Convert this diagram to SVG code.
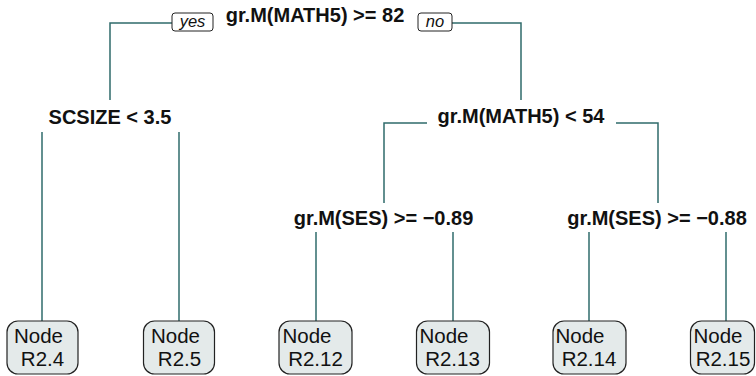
<svg xmlns="http://www.w3.org/2000/svg" width="756" height="376" viewBox="0 0 756 376">
<style>
.ln{fill:none;stroke:#2f6b6b;stroke-width:1.5}
.lbl{font-family:"Liberation Sans",Arial,sans-serif;font-weight:bold;font-size:20px;fill:#111;text-anchor:middle}
.leaf rect{fill:#e4eaea;stroke:#222;stroke-width:1.2}
.leaf text{font-family:"Liberation Sans",Arial,sans-serif;font-size:20.5px;fill:#111;text-anchor:middle}
.yn rect{fill:#fff;stroke:#222;stroke-width:1}
.yn text{font-family:"Liberation Sans",Arial,sans-serif;font-style:italic;font-size:16.5px;fill:#111;text-anchor:middle}
</style>
<rect width="756" height="376" fill="#fff"/>
<g id="connectors">
<path class="ln" d="M110,100 V23 H172"/>
<path class="ln" d="M452,23 H521 V100"/>
<path class="ln" d="M42,132 V321"/>
<path class="ln" d="M179,132 V321"/>
<path class="ln" d="M427,123 H384 V203"/>
<path class="ln" d="M616,123 H658 V203"/>
<path class="ln" d="M316,232 V321"/>
<path class="ln" d="M453,232 V321"/>
<path class="ln" d="M589,232 V321"/>
<path class="ln" d="M726,232 V321"/>
</g>
<g id="yes-label" class="yn"><rect x="172" y="13" width="41" height="18" rx="3"/><text x="192.5" y="27">yes</text></g>
<g id="no-label" class="yn"><rect x="418" y="13" width="34" height="18" rx="3"/><text x="435" y="27">no</text></g>
<g id="root"><text class="lbl" x="315" y="22">gr.M(MATH5) &gt;= 82</text></g>
<g id="n2"><text class="lbl" x="110" y="124">SCSIZE &lt; 3.5</text></g>
<g id="n3"><text class="lbl" x="521" y="123">gr.M(MATH5) &lt; 54</text></g>
<g id="n6"><text class="lbl" x="383.5" y="225">gr.M(SES) &gt;= −0.89</text></g>
<g id="n7"><text class="lbl" x="657" y="225">gr.M(SES) &gt;= −0.88</text></g>
<g id="leaf4" class="leaf"><rect x="7" y="321" width="71" height="53" rx="11"/><text x="38.5" y="343">Node</text><text x="42.5" y="366">R2.4</text></g>
<g id="leaf5" class="leaf"><rect x="143.5" y="321" width="71" height="53" rx="11"/><text x="175.5" y="343">Node</text><text x="179.5" y="366">R2.5</text></g>
<g id="leaf12" class="leaf"><rect x="279" y="321" width="73" height="53" rx="11"/><text x="307" y="343">Node</text><text x="315.5" y="366">R2.12</text></g>
<g id="leaf13" class="leaf"><rect x="416.5" y="321" width="73" height="53" rx="11"/><text x="444" y="343">Node</text><text x="452.5" y="366">R2.13</text></g>
<g id="leaf14" class="leaf"><rect x="553" y="321" width="73" height="53" rx="11"/><text x="580" y="343">Node</text><text x="589" y="366">R2.14</text></g>
<g id="leaf15" class="leaf"><rect x="690.5" y="321" width="64" height="53" rx="11"/><text x="718" y="343">Node</text><text x="723" y="366">R2.15</text></g>
</svg>
